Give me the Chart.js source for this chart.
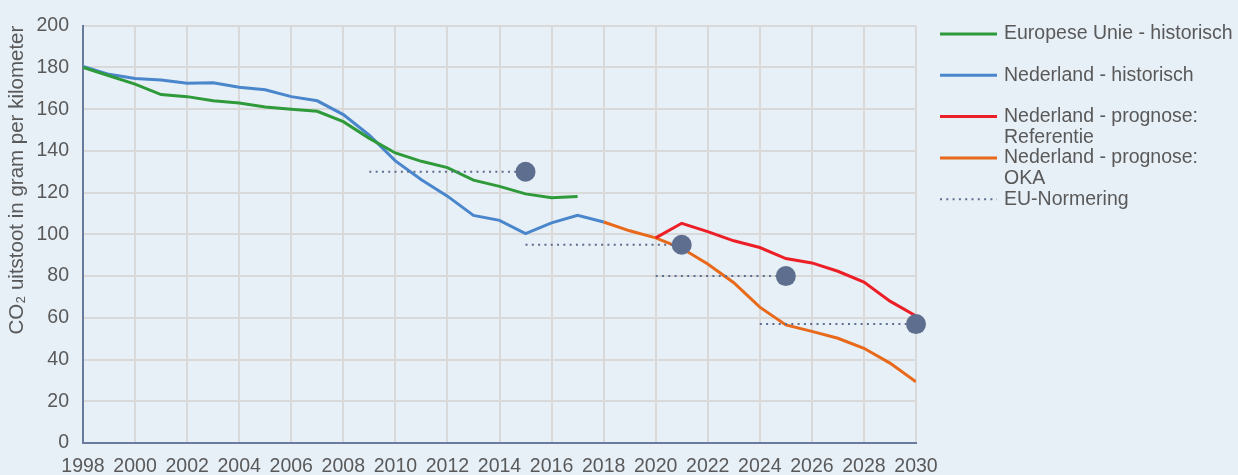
<!DOCTYPE html>
<html>
<head>
<meta charset="utf-8">
<script src="https://cdn.jsdelivr.net/npm/chart.js@4"></script>
<style>
  html, body { margin: 0; padding: 0; background: #e7eff7; }
  #wrap { width: 1238px; height: 475px; position: relative; }
</style>
</head>
<body>
<div id="wrap"><canvas id="c" width="1238" height="475"></canvas></div>
<script>
// ---- data ----
const euYears = [1998,1999,2000,2001,2002,2003,2004,2005,2006,2007,2008,2009,2010,2011,2012,2013,2014,2015,2016,2017];
const euHistorisch = [180,176,172,167,166,164,163,161,160,159,154,146,139,135,132,126,123,119.4,117.5,118.1];

const nlYears = [1998,1999,2000,2001,2002,2003,2004,2005,2006,2007,2008,2009,2010,2011,2012,2013,2014,2015,2016,2017,2018];
const nlHistorisch = [180.5,176.7,174.7,174,172.4,172.7,170.5,169.3,166,164,157.4,147.5,135.2,126.2,118.3,109.1,106.7,100.4,105.5,109.1,105.9];

const refYears = [2020,2021,2022,2023,2024,2025,2026,2027,2028,2029,2030];
const nlReferentie = [98.3,105.3,101.3,96.9,93.7,88.4,86.3,82.3,77.1,68,60.9];

const okaYears = [2018,2019,2020,2021,2022,2023,2024,2025,2026,2027,2028,2029,2030];
const nlOKA = [105.9,101.7,98.3,93.3,85.8,76.8,65.1,56.6,53.5,50.2,45.4,38.3,29.3];

const normFrom = [2009,2015,2020,2024];
const normTo = [2015,2021,2025,2030];
const normValue = [130,95,80,57];

const legendLabels = ['Europese Unie - historisch','Nederland - historisch','Nederland - prognose:\nReferentie','Nederland - prognose:\nOKA','EU-Normering'];

// ---- build ----
function pts(xs, ys) { return xs.map((x, i) => ({x: x, y: ys[i]})); }
const normPts = [];
const normRadius = [];
normFrom.forEach((f, i) => {
  normPts.push({x: f, y: normValue[i]}); normRadius.push(0);
  normPts.push({x: normTo[i], y: normValue[i]}); normRadius.push(10);
  normPts.push({x: normTo[i], y: null}); normRadius.push(0);
});

const C = {
  green: '#2f9a3a', blue: '#4a86cc', red: '#ec1f26', orange: '#e8691a',
  norm: '#5e6e8e', text: '#595959', grid: '#d9d9d9', axis: '#6b7b9f', bg: '#e7eff7'
};

Chart.defaults.font.family = '"Liberation Sans", Arial, sans-serif';
Chart.defaults.font.size = 19.5;
Chart.defaults.color = C.text;

const bgPlugin = {
  id: 'bg',
  beforeDraw(chart) {
    const ctx = chart.ctx;
    ctx.save(); ctx.fillStyle = C.bg; ctx.fillRect(0, 0, chart.width, chart.height); ctx.restore();
  }
};

const legendPlugin = {
  id: 'customLegend',
  afterDraw(chart) {
    const ctx = chart.ctx;
    const styles = [
      {c: C.green, dash: []}, {c: C.blue, dash: []}, {c: C.red, dash: []},
      {c: C.orange, dash: []}, {c: C.norm, dash: [2, 4.3]}
    ];
    ctx.save();
    ctx.font = '19.5px "Liberation Sans", Arial, sans-serif';
    ctx.textBaseline = 'middle';
    ctx.textAlign = 'left';
    legendLabels.forEach((lab, i) => {
      const y = 34 + i * 41.3;
      const s = styles[i];
      ctx.beginPath();
      ctx.setLineDash(s.dash);
      ctx.lineWidth = i === 4 ? 2 : 3;
      ctx.strokeStyle = s.c;
      ctx.moveTo(940, y); ctx.lineTo(997, y);
      ctx.stroke();
      ctx.setLineDash([]);
      ctx.fillStyle = C.text;
      lab.split('\n').forEach((line, j) => ctx.fillText(line, 1004, y + j * 21));
    });
    ctx.restore();
  }
};

new Chart(document.getElementById('c'), {
  type: 'line',
  data: {
    datasets: [
      { label: 'EU-Normering', data: normPts, borderColor: C.norm, backgroundColor: C.norm,
        borderWidth: 2, borderDash: [2, 4.3], pointRadius: normRadius, pointHoverRadius: normRadius,
        pointBorderWidth: 0, spanGaps: false, tension: 0, clip: false },
      { label: 'Europese Unie - historisch', data: pts(euYears, euHistorisch), borderColor: C.green,
        borderWidth: 3, pointRadius: 0, tension: 0 },
      { label: 'Nederland - historisch', data: pts(nlYears, nlHistorisch), borderColor: C.blue,
        borderWidth: 3, pointRadius: 0, tension: 0 },
      { label: 'Nederland - prognose: Referentie', data: pts(refYears, nlReferentie), borderColor: C.red,
        borderWidth: 3, pointRadius: 0, tension: 0 },
      { label: 'Nederland - prognose: OKA', data: pts(okaYears, nlOKA), borderColor: C.orange,
        borderWidth: 3, pointRadius: 0, tension: 0 }
    ]
  },
  options: {
    responsive: false,
    animation: false,
    events: [],
    layout: { padding: { left: 0, right: 322, top: 22, bottom: 0 } },
    plugins: { legend: { display: false }, tooltip: { enabled: false } },
    scales: {
      x: {
        type: 'linear', min: 1998, max: 2030,
        ticks: { stepSize: 2, padding: 12, autoSkip: false, maxRotation: 0, callback: v => String(v) },
        grid: { color: C.grid, lineWidth: 2, drawTicks: false },
        border: { color: C.axis, width: 2 },
        afterFit(s) { s.height = 32; }
      },
      y: {
        min: 0, max: 200,
        ticks: { stepSize: 20, padding: 14 },
        grid: { color: C.grid, lineWidth: 2, drawTicks: false },
        border: { color: C.axis, width: 2 },
        title: { display: true, text: 'CO₂ uitstoot in gram per kilometer', align: 'end',
                 font: { size: 20.5 }, padding: { top: 5, bottom: 0 } },
        afterFit(s) { s.width = 83; }
      }
    }
  },
  plugins: [bgPlugin, legendPlugin]
});
</script>
</body>
</html>
